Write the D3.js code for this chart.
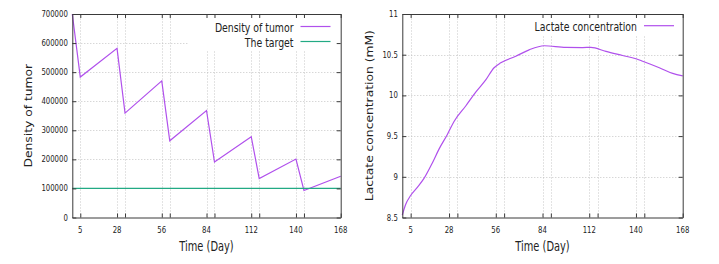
<!DOCTYPE html>
<html>
<head>
<meta charset="utf-8">
<script src="https://cdn.jsdelivr.net/npm/d3@7"></script>
<style>
    body { margin: 0; background: #fff; }
    svg { display: block; }
    text { font-family: 'DejaVu Sans', sans-serif; fill: #222; }
</style>
</head>
<body>
<svg width="719" height="264"></svg>
<script>
// data
var tumorDays = [0, 5, 28, 33, 56, 61, 84, 89, 112, 117, 140, 145, 168];
var tumorDensity = [700000, 483000, 582000, 359000, 470000, 264000, 368000, 191000, 278000, 134000, 201000, 93000, 142000];
var targetDays = [0, 168];
var targetDensity = [100000, 100000];

var lactateDays = [0, 2, 5, 9, 13, 18, 22, 27, 31, 38, 44, 50, 55, 59, 68, 76, 85, 98, 108, 113, 122, 132, 140, 144, 154, 162, 168];
var lactateValues = [8.53, 8.66, 8.77, 8.87, 8.98, 9.17, 9.34, 9.52, 9.68, 9.87, 10.04, 10.19, 10.34, 10.4, 10.48, 10.56, 10.61, 10.59, 10.588, 10.59, 10.54, 10.49, 10.45, 10.42, 10.34, 10.27, 10.24];

var majorDays = [5, 28, 56, 84, 112, 140, 168];
var minorDays = [33, 61, 89, 117, 145];
var tumorTicks = [0, 100000, 200000, 300000, 400000, 500000, 600000, 700000];
var lactateTicks = [8.5, 9, 9.5, 10, 10.5, 11];

var svg = d3.select('svg');
var SX = 0.73; // the figure text is squeezed sideways
var purple = '#b050ec';
var green = '#22aa84';

function hText(g, x, y, txt, size, anchor) {
    return g.append('text')
        .attr('transform', 'translate(' + x + ',' + y + ') scale(' + SX + ',1)')
        .attr('text-anchor', anchor || 'middle')
        .style('font-size', size + 'px')
        .text(txt);
}

function vText(g, x, y, txt, size) {
    return g.append('text')
        .attr('transform', 'translate(' + x + ',' + y + ') rotate(-90) scale(1,0.85)')
        .attr('text-anchor', 'middle')
        .style('font-size', size + 'px')
        .text(txt);
}

function drawPanel(opt) {
    var g = svg.append('g');
    var x = d3.scaleLinear().domain([0, 168]).range([opt.left, opt.right]);
    var y = d3.scaleLinear().domain(opt.yDomain).range([217.5, 14]);
    var allDays = majorDays.concat(minorDays);

    // grid
    var grid = g.append('g').attr('stroke', '#b8b8b8').attr('stroke-dasharray', '1,2').attr('stroke-width', 0.8);
    grid.selectAll('.vx').data(allDays.filter(function(d) { return d < 168; })).enter().append('line')
        .attr('x1', function(d) { return Math.round(x(d)) + 0.5; })
        .attr('x2', function(d) { return Math.round(x(d)) + 0.5; })
        .attr('y1', y.range()[0]).attr('y2', y.range()[1]);
    grid.selectAll('.hy').data(opt.yTicks.slice(1, -1)).enter().append('line')
        .attr('y1', function(d) { return Math.round(y(d)) + 0.5; })
        .attr('y2', function(d) { return Math.round(y(d)) + 0.5; })
        .attr('x1', x.range()[0]).attr('x2', x.range()[1]);

    // opaque key box
    g.append('rect')
        .attr('x', opt.keyBox[0]).attr('y', 15)
        .attr('width', x.range()[1] - 1 - opt.keyBox[0]).attr('height', opt.keyBox[1] - 15)
        .attr('fill', '#fff');

    // series
    opt.series.forEach(function(s) {
        g.append('path')
            .datum(s.days.map(function(d, i) { return [d, s.values[i]]; }))
            .attr('fill', 'none')
            .attr('stroke', s.color)
            .attr('stroke-width', 1.2)
            .attr('d', d3.line().curve(s.curve || d3.curveLinear)
                .x(function(d) { return x(d[0]); })
                .y(function(d) { return y(d[1]); }));
    });

    // axes (ticks pointing inwards, mirrored)
    var axes = g.append('g');
    axes.append('g').attr('transform', 'translate(0,' + y.range()[0] + ')')
        .call(d3.axisBottom(x).tickValues(allDays).tickSizeInner(-4).tickSizeOuter(0).tickFormat(''));
    axes.append('g').attr('transform', 'translate(0,' + y.range()[1] + ')')
        .call(d3.axisTop(x).tickValues(allDays).tickSizeInner(-4).tickSizeOuter(0).tickFormat(''));
    axes.append('g').attr('transform', 'translate(' + x.range()[0] + ',0)')
        .call(d3.axisLeft(y).tickValues(opt.yTicks).tickSizeInner(-4).tickSizeOuter(0).tickFormat(''));
    axes.append('g').attr('transform', 'translate(' + x.range()[1] + ',0)')
        .call(d3.axisRight(y).tickValues(opt.yTicks).tickSizeInner(-4).tickSizeOuter(0).tickFormat(''));
    axes.selectAll('path, line').attr('stroke', '#3a3a3a');

    // tick labels
    majorDays.forEach(function(d) {
        hText(g, x(d), 233, d, 9.5);
    });
    opt.yTicks.forEach(function(v) {
        hText(g, x.range()[0] - 4.5, y(v) + 3, opt.yFormat(v), 9.5, 'end');
    });

    // titles
    hText(g, (x.range()[0] + x.range()[1]) / 2, 250.5, 'Time (Day)', 13.5);
    vText(g, opt.yTitleX, 115.7, opt.yTitle, 12.3);

    // key
    opt.series.forEach(function(s, i) {
        var by = opt.keyTop + i * 15;
        hText(g, opt.keyText, by, s.name, 12.8, 'end');
        g.append('line')
            .attr('x1', opt.keyText + 7).attr('x2', opt.keyText + 37)
            .attr('y1', by - 5).attr('y2', by - 5)
            .attr('stroke', s.color).attr('stroke-width', 1.2);
    });
}

drawPanel({
    left: 72.3,
    right: 340.7,
    yDomain: [0, 700000],
    yTicks: tumorTicks,
    yFormat: d3.format('d'),
    yTitle: 'Density of tumor',
    yTitleX: 31.5,
    keyBox: [188, 50],
    keyText: 293.5,
    keyTop: 31.5,
    series: [
        { name: 'Density of tumor', days: tumorDays, values: tumorDensity, color: purple },
        { name: 'The target', days: targetDays, values: targetDensity, color: green }
    ]
});

drawPanel({
    left: 402.3,
    right: 682.7,
    yDomain: [8.5, 11],
    yTicks: lactateTicks,
    yFormat: function(v) { return String(v); },
    yTitle: 'Lactate concentration (mM)',
    yTitleX: 372.5,
    keyBox: [522, 36],
    keyText: 637,
    keyTop: 30.7,
    series: [
        { name: 'Lactate concentration', days: lactateDays, values: lactateValues, color: purple, curve: d3.curveMonotoneX }
    ]
});
</script>
</body>
</html>
